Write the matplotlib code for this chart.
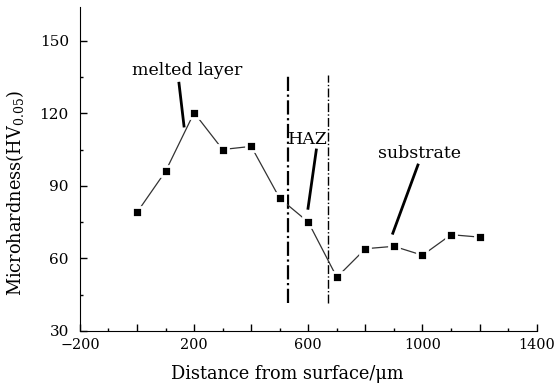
import matplotlib
matplotlib.use('Agg')
import matplotlib.pyplot as plt
import numpy as np
from matplotlib.ticker import MultipleLocator

plt.rcParams['font.family'] = 'DejaVu Serif'
plt.rcParams['mathtext.fontset'] = 'dejavuserif'

# data
distance = [0, 100, 200, 300, 400, 500, 600, 700, 800, 900, 1000, 1100, 1200]
hardness = [79, 96, 120.2, 105, 106.3, 84.8, 75, 52.2, 64, 65, 61.3, 69.8, 68.8]
zone_bounds = [530, 670]
x_labels = ['\u2212200', '200', '600', '1000', '1400']
x_label_pos = [-200, 200, 600, 1000, 1400]

fig = plt.figure(figsize=(5.55, 3.86), dpi=100)
ax = fig.add_axes([0.144, 0.1425, 0.823, 0.84])

ax.plot(distance, hardness, color='#333333', lw=0.9, marker='s', ms=7.3,
        mfc='black', mec='white', mew=2, zorder=3)

ax.plot([zone_bounds[0]] * 2, [41.4, 135.8], color='black', lw=1.6, ls='-.')
ax.plot([zone_bounds[1]] * 2, [41.4, 135.8], color='black', lw=1.0, ls='-.')

# annotations
ax.text(174, 137.6, 'melted layer', ha='center', va='center', fontsize=12.5)
ax.plot([147, 164.6], [132.4, 114.7], color='black', lw=2)
ax.text(600, 109, 'HAZ', ha='center', va='center', fontsize=12.5)
ax.plot([628, 599], [104.8, 80.7], color='black', lw=2)
ax.text(989, 103.5, 'substrate', ha='center', va='center', fontsize=12.5)
ax.plot([984, 896], [98.6, 70.4], color='black', lw=2)

ax.set_xlim(-200, 1400)
ax.set_ylim(30, 164)
ax.spines['top'].set_visible(False)
ax.spines['right'].set_visible(False)

ticks = np.arange(-200, 1401, 200)
ax.set_xticks(ticks)
ax.set_xticklabels([x_labels[x_label_pos.index(t)] if t in x_label_pos else '' for t in ticks])
ax.xaxis.set_minor_locator(MultipleLocator(100))
ax.yaxis.set_major_locator(MultipleLocator(30))
ax.yaxis.set_minor_locator(MultipleLocator(15))

ax.tick_params(which='major', direction='in', length=5, width=1)
ax.tick_params(which='minor', direction='in', length=2.4, width=1)
ax.tick_params(axis='x', labelsize=10.4, pad=5)
ax.tick_params(axis='y', labelsize=11, pad=8)

ax.set_xlabel('Distance from surface/\u03bcm', fontsize=12.8)
ax.xaxis.set_label_coords(0.453, -0.105, transform=ax.transAxes)
ax.set_ylabel('Microhardness(HV$_{0.05}$)', fontsize=12.8)
ax.yaxis.set_label_coords(-0.118, 0.427, transform=ax.transAxes)

fig.savefig('out.png', dpi=100)
